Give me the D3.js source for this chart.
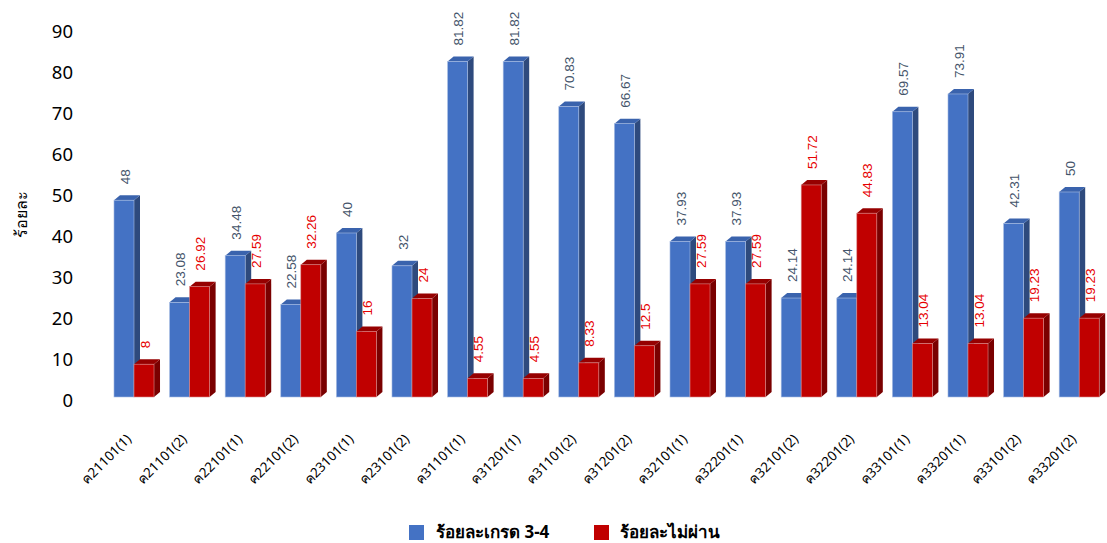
<!DOCTYPE html>
<html><head><meta charset="utf-8">
<script src="https://cdn.jsdelivr.net/npm/d3@7"></script>
<style>body{margin:0;background:#fff}svg{display:block}</style>
</head><body><svg id="c" width="1107" height="543"></svg>
<script>
const categories = ["ค21101(1)","ค21101(2)","ค22101(1)","ค22101(2)","ค23101(1)","ค23101(2)","ค31101(1)","ค31201(1)","ค31101(2)","ค31201(2)","ค32101(1)","ค32201(1)","ค32101(2)","ค32201(2)","ค33101(1)","ค33201(1)","ค33101(2)","ค33201(2)"];
const seriesNames = ["ร้อยละเกรด 3-4","ร้อยละไม่ผ่าน"];
const grade34 = [48,23.08,34.48,22.58,40,32,81.82,81.82,70.83,66.67,37.93,37.93,24.14,24.14,69.57,73.91,42.31,50];
const failed = [8,26.92,27.59,32.26,16,24,4.55,4.55,8.33,12.5,27.59,27.59,51.72,44.83,13.04,13.04,19.23,19.23];
const yTicks = [0,10,20,30,40,50,60,70,80,90];
const yTitle = "ร้อยละ";

const svg = d3.select("#c");
const font = "Tahoma, 'Noto Sans', 'DejaVu Sans', sans-serif";
const colors = [
  {front:"#4472c4", side:"#2e4a7d", top:"#3a63ad", label:"#44546a", stroke:"#a8bde3"},
  {front:"#c00000", side:"#7a0000", top:"#960000", label:"#e60000", stroke:"#d98a8a"}
];
const dx = 6, dy = 5;

const x = d3.scaleBand().domain(categories).range([106.2, 1107]).paddingInner(0.28).paddingOuter(0.14);
const xs = d3.scaleBand().domain([0,1]).range([0, x.bandwidth()]);
const y = d3.scaleLinear().domain([0,90]).range([397, 28]);
const yAxisScale = d3.scaleLinear().domain([0,90]).range([401, 32]);

// y axis labels
const yAxis = d3.axisLeft(yAxisScale).tickValues(yTicks).tickSize(0).tickPadding(0);
const ga = svg.append("g").attr("transform","translate(73,0)").call(yAxis);
ga.select(".domain").remove();
ga.selectAll("text").attr("font-family", font).attr("font-size", 18.5).attr("fill","#000");

svg.append("text").attr("transform","translate(27,214) rotate(-90)")
  .attr("text-anchor","middle").attr("font-family", font).attr("font-size", 16).attr("fill","#000").text(yTitle);

const data = [grade34, failed];
const labels = svg.append("g");
categories.forEach((c, i) => {
  data.forEach((arr, s) => {
    const v = arr[i];
    const x0 = x(c) + xs(s), w = xs.bandwidth();
    const yt = y(v), yb = y(0);
    const col = colors[s];
    const g = svg.append("g");
    g.append("path").attr("d", `M${x0+w},${yt} L${x0+w+dx},${yt-dy} L${x0+w+dx},${yb-dy} L${x0+w},${yb} Z`).attr("fill", col.side);
    g.append("path").attr("d", `M${x0},${yt} L${x0+dx},${yt-dy} L${x0+w+dx},${yt-dy} L${x0+w},${yt} Z`).attr("fill", col.top);
    g.append("rect").attr("x", x0).attr("y", yt).attr("width", w).attr("height", yb-yt)
      .attr("fill", col.front).attr("stroke", col.stroke).attr("stroke-width", 0.6);
    labels.append("text").attr("transform", `translate(${x0+w/2+2},${yt-16}) rotate(-90)`)
      .attr("font-family","'Liberation Sans', Arial, sans-serif").attr("font-size", 13.5)
      .attr("fill", col.label).attr("text-anchor","start").attr("dominant-baseline","middle").text(v);
  });
});
labels.raise();

// x labels
categories.forEach(c => {
  const cx = x(c) + x.bandwidth()/2;
  svg.append("text").attr("transform", `translate(${cx-2},${440}) rotate(-45)`)
    .attr("text-anchor","end").attr("font-family", font).attr("font-size", 13.5).attr("fill","#000").text(c);
});

// legend
const leg = [{x:409, tx:436},{x:594, tx:620}];
seriesNames.forEach((n, s) => {
  svg.append("rect").attr("x", leg[s].x).attr("y", 525).attr("width", 15).attr("height", 15).attr("fill", colors[s].front);
  svg.append("text").attr("x", leg[s].tx).attr("y", 533).attr("dominant-baseline","middle")
    .attr("font-family", font).attr("font-size", 17).attr("font-weight","bold").attr("fill","#000").text(n);
});
</script></body></html>
